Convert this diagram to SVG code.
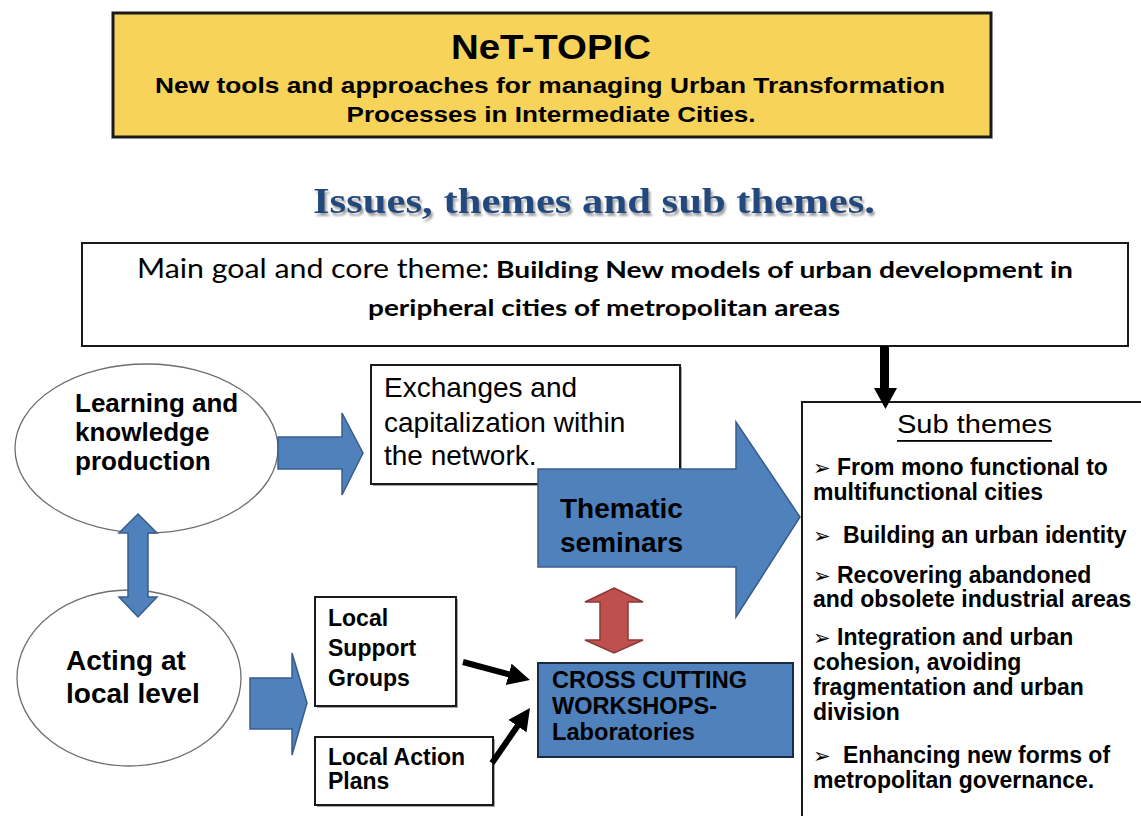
<svg xmlns="http://www.w3.org/2000/svg" width="1141" height="816" viewBox="0 0 1141 816">
<defs>
<style>
.box{fill:#fff;stroke:#1a1a1a;stroke-width:2}
.shadow{fill:#a6a6a6}
.ell{fill:#fff;stroke:#6e6e6e;stroke-width:1.3}
.blue{fill:#4f81bd;stroke:#385d8a;stroke-width:1.5}
.red{fill:#c0504d;stroke:#8c3836;stroke-width:1.5}
.blk{fill:#000}
.sans{font-family:"Liberation Sans",Arial,sans-serif;fill:#000}
.b{font-weight:bold}
.calib{font-family:Lato,"Open Sans",sans-serif;fill:#000}
.sub{font-family:"Liberation Sans",Arial,sans-serif;font-weight:bold;font-size:23px;fill:#000}
.arr{font-family:"DejaVu Sans",sans-serif;font-size:21px;fill:#000}
</style>
<filter id="tsh" x="-5%" y="-20%" width="110%" height="150%">
<feDropShadow dx="2" dy="3" stdDeviation="1" flood-color="#8a8a8a" flood-opacity="0.8"/>
</filter>
<marker id="bh" markerUnits="userSpaceOnUse" markerWidth="22" markerHeight="22" refX="12" refY="11" orient="auto">
<path d="M0,0 L22,11 L0,22 z" fill="#000"/>
</marker>
</defs>
<rect width="1141" height="816" fill="#fff"/>

<g id="header">
<rect x="113" y="13" width="878" height="124" fill="#f7d35a" stroke="#1a1a1a" stroke-width="3"/>
<text class="sans b" x="551" y="59" font-size="35" text-anchor="middle" textLength="200" lengthAdjust="spacingAndGlyphs">NeT-TOPIC</text>
<text class="sans b" x="550" y="93" font-size="22" text-anchor="middle" textLength="790" lengthAdjust="spacingAndGlyphs">New tools and approaches for managing Urban Transformation</text>
<text class="sans b" x="551" y="122" font-size="22" text-anchor="middle" textLength="409" lengthAdjust="spacingAndGlyphs">Processes in Intermediate Cities.</text>
</g>

<g id="title">
<text x="594" y="213" font-family="'Liberation Serif','Times New Roman',serif" font-weight="bold" font-size="35" fill="#24497d" text-anchor="middle" textLength="562" lengthAdjust="spacingAndGlyphs" filter="url(#tsh)">Issues, themes and sub themes.</text>
</g>

<g id="main-goal">
<rect x="82" y="243" width="1046" height="103" class="box" stroke-width="2.5"/>
<text class="calib" x="137" y="278" font-size="26" textLength="352" lengthAdjust="spacingAndGlyphs">Main goal and core theme:</text>
<text class="calib b" x="496" y="278" font-size="23" textLength="577" lengthAdjust="spacingAndGlyphs">Building New models of urban development in</text>
<text class="calib b" x="368" y="316" font-size="23" textLength="472" lengthAdjust="spacingAndGlyphs">peripheral cities of metropolitan areas</text>
</g>

<g id="learning">
<ellipse cx="146.5" cy="448.5" rx="131.5" ry="84.5" class="ell"/>
<text class="sans b" font-size="26" x="75" y="412">Learning and</text>
<text class="sans b" font-size="26" x="75" y="441">knowledge</text>
<text class="sans b" font-size="26" x="75" y="470">production</text>
</g>

<g id="acting">
<ellipse cx="129" cy="678" rx="112" ry="88" class="ell"/>
<text class="sans b" font-size="28" x="66" y="670">Acting at</text>
<text class="sans b" font-size="28" x="66" y="703">local level</text>
</g>

<g id="exchanges">
<rect x="373" y="367" width="309" height="119" class="shadow"/>
<rect x="371" y="365" width="309" height="119" class="box"/>
<text class="sans" font-size="28" x="384" y="397">Exchanges and</text>
<text class="sans" font-size="28" x="384" y="432">capitalization within</text>
<text class="sans" font-size="28" x="384" y="465">the network.</text>
</g>

<g id="thematic-seminars">
<polygon class="blue" points="538,469 736,469 736,422 800,517 736,617 736,567 538,567"/>
<text class="sans b" font-size="28" x="560" y="518">Thematic</text>
<text class="sans b" font-size="28" x="560" y="552">seminars</text>
</g>

<g id="local-support-groups">
<rect x="317" y="599" width="141" height="109" class="shadow"/>
<rect x="315" y="597" width="141" height="109" class="box"/>
<text class="sans b" font-size="23" x="328" y="626">Local</text>
<text class="sans b" font-size="23" x="328" y="656">Support</text>
<text class="sans b" font-size="23" x="328" y="686">Groups</text>
</g>

<g id="local-action-plans">
<rect x="317" y="739" width="178" height="68" class="shadow"/>
<rect x="315" y="737" width="178" height="68" class="box"/>
<text class="sans b" font-size="23" x="328" y="765">Local Action</text>
<text class="sans b" font-size="23" x="328" y="789">Plans</text>
</g>

<g id="cross-cutting">
<rect x="538" y="663" width="255" height="94" fill="#4f81bd" stroke="#1c2a40" stroke-width="2"/>
<text class="sans b" font-size="23" x="552" y="688" textLength="195" lengthAdjust="spacingAndGlyphs">CROSS CUTTING</text>
<text class="sans b" font-size="23" x="552" y="714" textLength="165" lengthAdjust="spacingAndGlyphs">WORKSHOPS-</text>
<text class="sans b" font-size="23" x="552" y="740" textLength="143" lengthAdjust="spacingAndGlyphs">Laboratories</text>
</g>

<g id="sub-themes">
<rect x="802" y="402" width="345" height="420" class="box"/>
<text class="sans" font-size="26" x="897" y="433" textLength="155" lengthAdjust="spacingAndGlyphs">Sub themes</text>
<rect x="897" y="440" width="155" height="1.8" fill="#000"/>
<text class="arr" x="813" y="475">➢</text>
<text class="sub" x="837" y="475">From mono functional to</text>
<text class="sub" x="813" y="500">multifunctional cities</text>
<text class="arr" x="813" y="543">➢</text>
<text class="sub" x="843" y="543">Building an urban identity</text>
<text class="arr" x="813" y="583">➢</text>
<text class="sub" x="837" y="583">Recovering abandoned</text>
<text class="sub" x="813" y="607">and obsolete industrial areas</text>
<text class="arr" x="813" y="645">➢</text>
<text class="sub" x="837" y="645">Integration and urban</text>
<text class="sub" x="813" y="670">cohesion, avoiding</text>
<text class="sub" x="813" y="695">fragmentation and urban</text>
<text class="sub" x="813" y="720">division</text>
<text class="arr" x="813" y="763">➢</text>
<text class="sub" x="843" y="763">Enhancing new forms of</text>
<text class="sub" x="813" y="788">metropolitan governance.</text>
</g>

<g id="connectors">
<polygon class="blue" points="278,437 342,437 342,413 363,453 342,495 342,469 278,469"/>
<polygon class="blue" points="138,514 157,533 148,533 148,597 157,597 138,617 119,597 128,597 128,533 119,533"/>
<polygon class="blue" points="250,678 292,678 292,653 307,703 292,755 292,729 250,729"/>
<polygon class="red" points="614,588 643,602 628,602 628,640 643,640 614,653 585,640 600,640 600,602 585,602"/>
<polygon class="blk" points="880,346 889,346 889,388 897,388 885.5,409 874,388 880,388"/>
<line x1="463" y1="662" x2="520.3" y2="677.4" stroke="#000" stroke-width="6" marker-end="url(#bh)"/>
<line x1="492" y1="763" x2="524.3" y2="716.2" stroke="#000" stroke-width="6" marker-end="url(#bh)"/>
</g>
</svg>
